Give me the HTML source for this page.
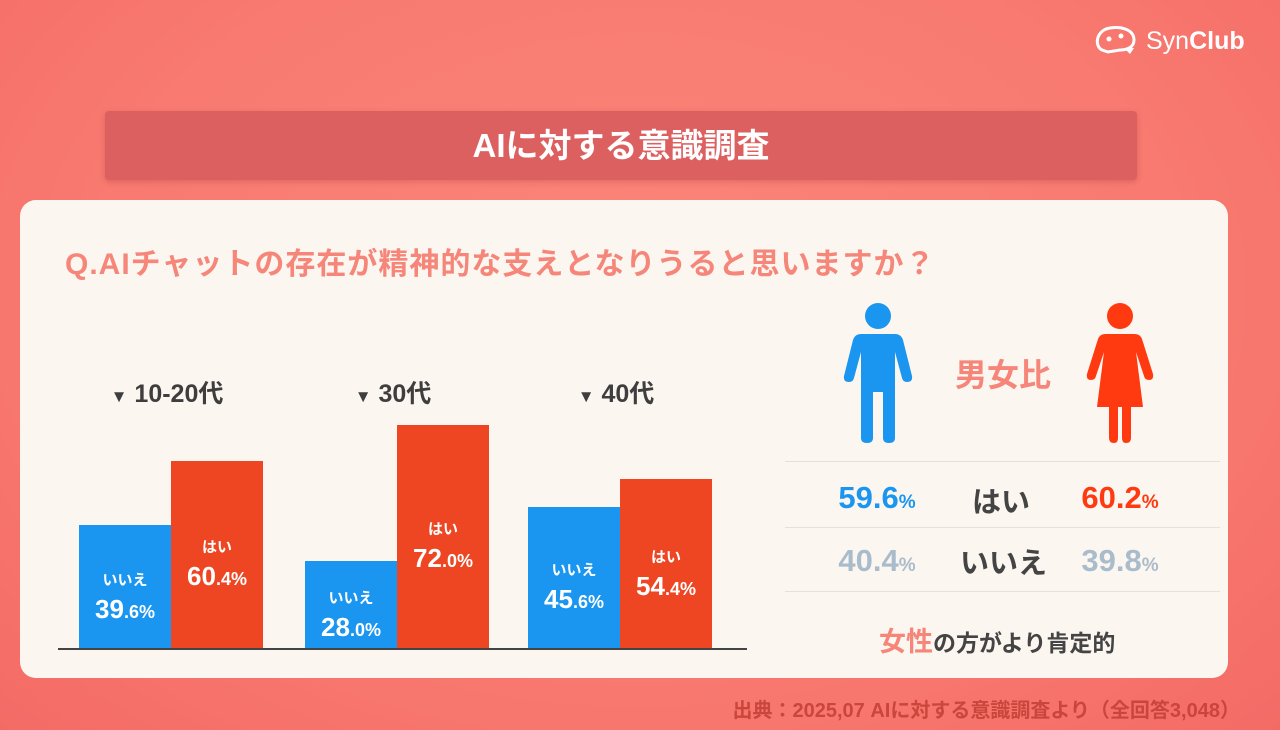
<!DOCTYPE html>
<html><head><meta charset="utf-8">
<style>
*{margin:0;padding:0;box-sizing:border-box}
body{width:1280px;height:730px;overflow:hidden;font-family:"Liberation Sans","Noto Sans CJK JP",sans-serif;font-weight:bold;background:radial-gradient(ellipse at 50% 40%,#fb857a 0%,#f87a70 60%,#f46b66 100%);position:relative}
.abs{position:absolute}
#banner{left:105px;top:111px;width:1032px;height:69px;background:#dc6060;border-radius:4px;color:#fff;font-size:33px;text-align:center;line-height:69px;box-shadow:0 2px 6px rgba(150,40,40,.25)}
#card{left:20px;top:200px;width:1208px;height:478px;background:#fcf6f0;border-radius:16px}
#q{left:65px;top:239px;font-size:30px;letter-spacing:1px;color:#f58679;white-space:nowrap}
.grp{font-size:25px;color:#3e3e3e;width:200px;text-align:center;white-space:nowrap}
.lab{color:#fff;text-align:center;width:92px;display:flex;flex-direction:column;justify-content:center}
.sm{font-size:15px}
.big{font-size:26px}
.big span{font-size:18px}
.hr{left:785px;width:435px;height:1px;background:#e6dfda}
.pct{font-size:31px;text-align:center;width:150px}
.pct span{font-size:19px}
#src{right:40px;top:694px;font-size:20px;color:#c9463c;white-space:nowrap}
</style></head><body>
<div class="abs" style="left:1094px;top:24px;color:#fff;font-size:25px;display:flex;align-items:center;gap:6px">
<svg width="46" height="34" viewBox="0 0 46 34"><path d="M8 26 C0 22 2 6 16 4 C28 2 40 6 40 16 C40 24 32 26 26 26 L14 28 Z" fill="none" stroke="#fff" stroke-width="3"/><circle cx="15" cy="15" r="2.5" fill="#fff"/><circle cx="27" cy="12" r="2.5" fill="#fff"/><path d="M30 24 l6 6 l4 -6 z" fill="#fff"/></svg>
<span style="font-weight:normal">Syn</span><span style="margin-left:-6px">Club</span></div>
<div id="banner" class="abs">AIに対する意識調査</div>
<div id="card" class="abs"></div>
<div id="q" class="abs">Q.AIチャットの存在が精神的な支えとなりうると思いますか？</div>
<div id="chart"></div>
<div class="abs" style="left:58px;top:648px;width:689px;height:2px;background:#444"></div>

<svg class="abs" style="left:843px;top:302px" width="70" height="142" viewBox="0 0 70 142"><circle cx="35" cy="14" r="13" fill="#1a96f0"/><path d="M18 32 H52 Q58 32 60 38 L69 74 Q70 80 64 80 Q60 80 59 76 L52 50 V136 Q52 141 46 141 Q40 141 40 136 V90 H30 V136 Q30 141 24 141 Q18 141 18 136 V50 L11 76 Q10 80 6 80 Q0 80 1 74 L10 38 Q12 32 18 32Z" fill="#1a96f0"/></svg>
<div class="abs" style="left:955px;top:350px;font-size:32px;color:#f58679">男女比</div>
<svg class="abs" style="left:1085px;top:302px" width="70" height="142" viewBox="0 0 70 142"><circle cx="35" cy="14" r="13" fill="#ff3a10"/><path d="M20 32 H50 Q55 32 57 37 L68 72 Q69 78 64 78 Q60 78 59 74 L51 50 L58 105 H46 V136 Q46 141 41 141 Q37 141 37 136 V105 H33 V136 Q33 141 29 141 Q24 141 24 136 V105 H12 L19 50 L11 74 Q10 78 6 78 Q1 78 2 72 L13 37 Q15 32 20 32Z" fill="#ff3a10"/></svg>
<div class="abs hr" style="top:461px"></div>
<div class="abs hr" style="top:527px"></div>
<div class="abs hr" style="top:591px"></div>
<div class="abs pct" style="left:802px;top:480px;color:#1a96f0">59.6<span>%</span></div>
<div class="abs" style="left:972px;top:479px;font-size:29px;color:#444">はい</div>
<div class="abs pct" style="left:1045px;top:480px;color:#ff3a10">60.2<span>%</span></div>
<div class="abs pct" style="left:802px;top:543px;color:#a9bccb">40.4<span>%</span></div>
<div class="abs" style="left:960px;top:540px;font-size:29px;color:#444">いいえ</div>
<div class="abs pct" style="left:1045px;top:543px;color:#a9bccb">39.8<span>%</span></div>
<div class="abs" style="left:879px;top:620px;font-size:23px;color:#444"><span style="color:#f58679;font-size:27px">女性</span>の方がより肯定的</div>
<div id="src" class="abs">出典：2025,07 AIに対する意識調査より（全回答3,048）</div>
<script>
const groups=["10-20代","30代","40代"];
const noVals=[39.6,28.0,45.6];
const yesVals=[60.4,72.0,54.4];
const base=648, scale=3.1, starts=[79,305,528], bw=92;
const y=v=>v*scale;
function fmt(v){const s=v.toFixed(1).split('.');return s[0]+'<span>.'+s[1]+'%</span>';}
const c=document.getElementById('chart');
groups.forEach((g,i)=>{
  const lab=document.createElement('div');
  lab.className='abs grp';
  
  
  lab.style.left=(starts[i]+bw-104)+'px';lab.style.top='374px';
  lab.innerHTML='<span style="font-size:17px">▼</span> '+g;
  c.appendChild(lab);
  [[noVals[i],'#1a96f0','いいえ',0],[yesVals[i],'#ee4622','はい',1]].forEach(([v,col,t,k])=>{
    const h=y(v),x=starts[i]+k*bw;
    const b=document.createElement('div');
    b.className='abs';
    
    
    b.style.cssText=`left:${x}px;top:${base-h}px;width:${bw}px;height:${h}px;background:${col}`;
    c.appendChild(b);
    const l=document.createElement('div');
    l.className='abs lab';
    
    
    l.style.left=x+'px';l.style.top=(base-h+10)+'px';l.style.height=h+'px';
    l.innerHTML=`<div class="sm">${t}</div><div class="big" style="margin-top:4px">${fmt(v)}</div>`;
    c.appendChild(l);
  });
});
</script>
</body></html>
